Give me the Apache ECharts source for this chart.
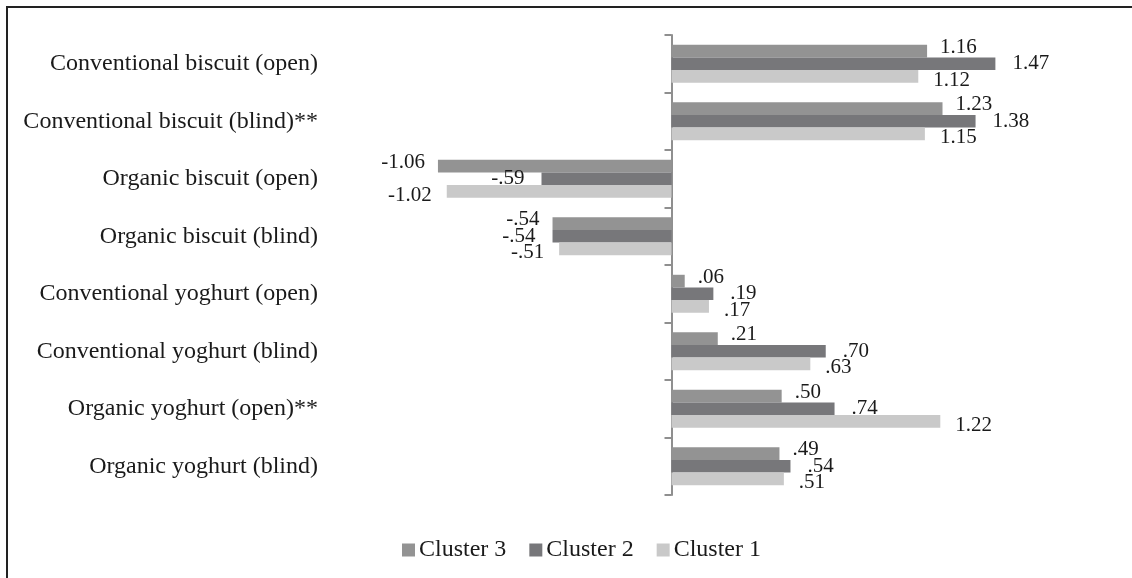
<!DOCTYPE html>
<html>
<head>
<meta charset="utf-8">
<script src="https://cdn.jsdelivr.net/npm/echarts@6/dist/echarts.min.js"></script>
<style>
html,body{margin:0;padding:0;background:#fff;}
#chart{width:1132px;height:578px;}
</style>
</head>
<body>
<div id="chart"></div>
<script>
const categories = [
  'Conventional biscuit (open)',
  'Conventional biscuit (blind)**',
  'Organic biscuit (open)',
  'Organic biscuit (blind)',
  'Conventional yoghurt (open)',
  'Conventional yoghurt (blind)',
  'Organic yoghurt (open)**',
  'Organic yoghurt (blind)'
];
const cluster3 = [1.16, 1.23, -1.06, -0.54, 0.06, 0.21, 0.50, 0.49];
const cluster2 = [1.47, 1.38, -0.59, -0.54, 0.19, 0.70, 0.74, 0.54];
const cluster1 = [1.12, 1.15, -1.02, -0.51, 0.17, 0.63, 1.22, 0.51];
const seriesNames = ['Cluster 3', 'Cluster 2', 'Cluster 1'];
const seriesColors = ['#939393', '#77777a', '#c9c9c9'];

const FONT = '"Liberation Serif", "Times New Roman", serif';
function fmt(v) {
  let s = Math.abs(v).toFixed(2);
  if (s.startsWith('0.')) s = s.slice(1);
  return (v < 0 ? '-' : '') + s;
}
function makeSeries(name, values, color, dy, dist) {
  return {
    name: name,
    type: 'bar',
    yAxisIndex: 0,
    barGap: '0%',
    barCategoryGap: '34%',
    itemStyle: { color: color },
    data: values.map(v => ({
      value: v,
      label: { position: v < 0 ? 'left' : 'right' }
    })),
    label: {
      show: true,
      distance: dist,
      offset: [0, dy],
      formatter: p => fmt(p.value),
      fontFamily: FONT,
      fontSize: 21,
      color: '#1a1a1a'
    }
  };
}

const chart = echarts.init(document.getElementById('chart'));
chart.setOption({
  animation: false,
  backgroundColor: '#fff',
  grid: { left: 341, right: 130, top: 35, bottom: 83, containLabel: false, outerBoundsMode: 'none' },
  xAxis: {
    type: 'value', min: -1.5, max: 1.5, show: false
  },
  yAxis: [
    {
      type: 'category', data: categories, inverse: true,
      position: 'left',
      axisLine: { show: true, onZero: true, lineStyle: { color: '#8f8f8f', width: 2 } },
      axisTick: { show: true, length: 7, lineStyle: { color: '#8f8f8f', width: 2 } },
      axisLabel: { show: false }
    },
    {
      type: 'category', data: categories, inverse: true,
      position: 'left',
      axisLine: { show: false, onZero: false },
      axisTick: { show: false },
      axisLabel: { margin: 23, fontFamily: FONT, fontSize: 24, color: '#1a1a1a' }
    }
  ],
  legend: {
    data: seriesNames,
    top: 533,
    left: 397,
    icon: 'rect',
    itemWidth: 13, itemHeight: 13, itemGap: 23,
    textStyle: { fontFamily: FONT, fontSize: 24, color: '#1a1a1a', padding: [0, 0, 0, -1] }
  },
  graphic: [
    { type: 'line', shape: { x1: 6, y1: 7, x2: 1132, y2: 7 }, style: { stroke: '#222', lineWidth: 2 } },
    { type: 'line', shape: { x1: 7, y1: 6, x2: 7, y2: 578 }, style: { stroke: '#222', lineWidth: 2 } }
  ],
  series: [
    makeSeries(seriesNames[0], cluster3, seriesColors[0], -4, 13),
    makeSeries(seriesNames[1], cluster2, seriesColors[1], 0, 17),
    makeSeries(seriesNames[2], cluster1, seriesColors[2], 4, 15)
  ]
});
</script>
</body>
</html>
